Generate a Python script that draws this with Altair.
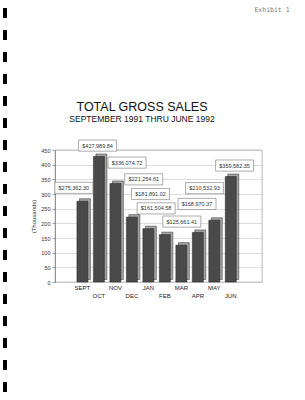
import altair as alt
import pandas as pd

months = ["SEPT", "OCT", "NOV", "DEC", "JAN", "FEB", "MAR", "APR", "MAY", "JUN"]
sales = [275362.30, 427989.84, 336074.72, 221254.61, 181891.02,
         161504.58, 125661.41, 168970.37, 210532.93, 359582.35]
# where each value callout box sits (bar-slot units, thousands)
label_slot = [-0.52, 0.92, 2.71, 3.72, 4.13, 4.47, 6.03, 6.95, 7.41, 9.23]
label_level = [321, 465, 407, 350, 300, 251, 206, 266, 320, 397]
y_ticks = [0, 50, 100, 150, 200, 250, 300, 350, 400, 450]
holes = list(range(18))
title_text = "TOTAL GROSS SALES"
subtitle_text = "SEPTEMBER 1991 THRU JUNE 1992"

df = pd.DataFrame({
    "month": months,
    "slot": list(range(len(months))),
    "sales": sales,
    "k": [s / 1000 for s in sales],
    "lx": label_slot,
    "ly": label_level,
    "row": [i % 2 for i in range(len(months))],
})
df["ly0"] = df["ly"] - 19
df["ly1"] = df["ly"] + 19

W, H = 207, 132
FONT = "Liberation Sans"

xs = alt.Scale(domain=[-1.36, 10.59], nice=False, zero=False)
ys = alt.Scale(domain=[0, 450], nice=False, zero=True)
yaxis = alt.Axis(values=y_ticks, title="(Thousands)", labelFontSize=5.5,
                 labelColor="#333", labelFont=FONT, tickSize=3, tickColor="#666",
                 domainColor="#666", domainWidth=0.6, tickWidth=0.6,
                 grid=True, gridColor="#bdbdbd", gridWidth=0.5,
                 labelPadding=2, titleFontSize=6, titleFontWeight="normal",
                 titleFont=FONT, titleColor="#333", titleX=-22, titleY=H / 2,
                 titleAngle=270, titleAlign="center", titleBaseline="middle")
X = alt.X("slot:Q", scale=xs, axis=None)

base = alt.Chart(df)

side = base.mark_bar(width=11, xOffset=2.5, yOffset=-2.5, color="#a3a3a3",
                     stroke="#333", strokeWidth=0.5).encode(
    x=X, y=alt.Y("k:Q", scale=ys, axis=yaxis))
front = base.mark_bar(width=11, color="#4a4a4a", stroke="#222",
                      strokeWidth=0.5).encode(
    x=X, y=alt.Y("k:Q", scale=ys, axis=yaxis))

boxes = base.mark_bar(width=38, fill="white", stroke="#777",
                      strokeWidth=0.6).encode(
    x=alt.X("lx:Q", scale=xs, axis=None),
    y=alt.Y("ly0:Q", scale=ys, axis=yaxis), y2="ly1:Q")
box_text = base.mark_text(fontSize=5.5, font=FONT, color="#333",
                          baseline="middle").encode(
    x=alt.X("lx:Q", scale=xs, axis=None),
    y=alt.Y("ly:Q", scale=ys, axis=yaxis),
    text=alt.Text("sales:Q", format="$,.2f"))

lab_top = base.transform_filter("datum.row == 0").mark_text(
    fontSize=6, font=FONT, color="#222", baseline="middle").encode(
    x=X, y=alt.value(H + 6), text="month:N")
lab_bot = base.transform_filter("datum.row == 1").mark_text(
    fontSize=6, font=FONT, color="#222", baseline="middle").encode(
    x=X, y=alt.value(H + 14), text="month:N")

inner = alt.layer(side, front, boxes, box_text, lab_top, lab_bot)

hole_marks = alt.Chart(pd.DataFrame({"h": holes})).mark_tick(
    orient="vertical", size=10, thickness=4, color="black", opacity=1).encode(
    x=alt.value(-50),
    y=alt.Y("h:Q", scale=alt.Scale(domain=[0, 17], range=[-137, 237]), axis=None))

heads = pd.DataFrame({"t": [title_text, subtitle_text, "Exhibit 1"],
                      "kind": ["title", "sub", "exh"]})
title_mark = alt.Chart(heads).transform_filter("datum.kind == 'title'").mark_text(
    fontSize=12.5, font=FONT, color="#111", baseline="alphabetic").encode(
    x=alt.value(87), y=alt.value(-39), text="t:N")
sub_mark = alt.Chart(heads).transform_filter("datum.kind == 'sub'").mark_text(
    fontSize=8.5, font=FONT, color="#111", baseline="alphabetic").encode(
    x=alt.value(87), y=alt.value(-28), text="t:N")
exhibit = alt.Chart(heads).transform_filter("datum.kind == 'exh'").mark_text(
    fontSize=6.5, font="DejaVu Sans Mono", color="#777", baseline="middle").encode(
    x=alt.value(217), y=alt.value(-140), text="t:N")

chart = alt.layer(inner, hole_marks, title_mark, sub_mark, exhibit).resolve_scale(
    y="independent").properties(
    width=W, height=H,
    autosize=alt.AutoSizeParams(type="none"),
    padding={"left": 55, "top": 150, "right": 43, "bottom": 118},
    background="white",
).configure_view(stroke="#8a8a8a", strokeWidth=0.6)

chart.save("out.html", embed_options={"renderer": "svg", "actions": False})
